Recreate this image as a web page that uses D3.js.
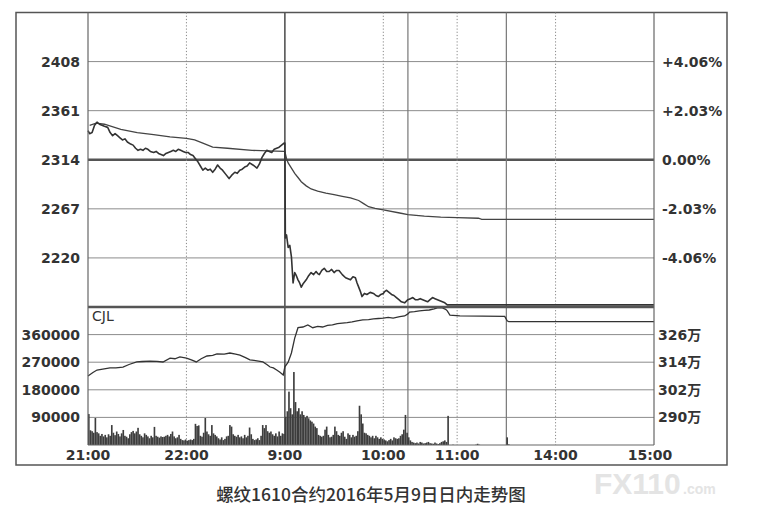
<!DOCTYPE html>
<html>
<head>
<meta charset="utf-8">
<script src="https://cdn.jsdelivr.net/npm/d3@7"></script>
<style>
  html, body { margin: 0; padding: 0; background: #fff; }
  svg { display: block; }
</style>
</head>
<body>
<svg id="chart" width="769" height="521"></svg>
<script>
// ---------------- DATA ----------------
// time axis: trading minutes since 21:00 (night 21:00-23:00, then 9:00-10:15, 10:30-11:30, 13:30-15:00)
const timeTicks  = [0, 60, 120, 180, 225, 285, 345];
const timeLabels = ["21:00", "22:00", "9:00", "10:00", "11:00", "14:00", "15:00"];
const dottedMinutes = [60, 180, 225, 285];
const solidMinutes  = [120, 195, 255];

const priceTicks = [2408, 2361, 2314, 2267, 2220];
const pctLabels  = ["+4.06%", "+2.03%", "0.00%", "-2.03%", "-4.06%"];
const volTicks   = [360000, 270000, 180000, 90000];
const oiTicks    = [326, 314, 302, 290];
const oiLabels   = ["326万", "314万", "302万", "290万"];

// last price
const priceMin = [0,1,2.5,4,5.5,7,8.5,10,12,13.5,15,16.5,18,19.5,21,22.5,24,26,27.5,29,30.5,32,33.5,35,36.5,38,40,41.5,43,44.5,46,47.5,49,50.5,52,53.5,55,56.5,58,59.5,61,62.5,64,65.5,67,68.5,70,71.5,73,74.5,76,77.5,79,80.5,82,84,86,87.5,89.5,91,92.5,94,95.5,97,98.5,100.5,103,104.5,106,107.5,109,110.5,112,113.5,115,116.5,118,119.5,
  120,120.3,121,122,123,124,125,126,127,128,129,130,131,133,134.5,136,137.5,139,140,141,142.5,144,145.5,147,148.5,150,151.5,153,155,157,158.5,160,161.5,163,164,165,166,167,168.5,170,172,174,175.5,177,178.5,180,181,182,183.5,185,186.5,188,189.5,191,193,195,196.5,198,199.5,201,202.5,204,205.5,207,208.5,210,211.5,213,214.5,216,217.5,219,345];
const priceVal = [2342,2339,2340,2347,2350,2348,2347,2346,2345,2340,2337,2339,2337,2335,2333,2334,2331,2329,2328,2325,2323,2324,2323,2325,2324,2322,2321,2322,2320,2319,2318,2320,2321,2322,2323,2322,2324,2323,2322,2321,2321,2319,2318,2315,2312,2308,2304,2306,2304,2305,2302,2305,2309,2306,2304,2300,2296,2299,2302,2301,2304,2305,2307,2308,2311,2309,2306,2310,2316,2320,2323,2322,2321,2324,2325,2326,2328,2330,
  2330,2239,2242,2230,2232,2221,2196,2206,2203,2199,2196,2192,2195,2199,2203,2206,2204,2207,2205,2204,2208,2210,2207,2207,2209,2206,2208,2208,2204,2201,2200,2199,2202,2201,2196,2192,2188,2183,2186,2185,2187,2186,2184,2183,2185,2186,2188,2189,2187,2185,2184,2182,2180,2178,2177,2180,2181,2182,2180,2180,2181,2180,2179,2178,2180,2182,2181,2180,2179,2178,2177,2175,2175];

// average price
const avgMin = [1,5,10,20,30,40,50,60,65,70,76,85,100,110,119.5,120,121,122,124,126,128,130,133,136,140,145,150,155,160,165,168,171,175,180,190,195,205,215,225,238,240,345];
const avgVal = [2347,2349,2348,2343,2340,2338,2336,2334.5,2333,2330,2326,2325,2323,2322.5,2322,2322,2315,2311,2306,2301,2297,2293,2289,2286,2284,2282,2280.5,2279,2277.5,2275,2272,2269,2267.5,2266,2263,2261.5,2260,2259,2258.5,2258,2257,2257];

// open interest (万手)
const oiMin = [0,3,5.5,9,13.4,17,21.3,25,29.7,33,37.8,42,45.7,50,53,56,60,63,66,69,72.5,76,78.6,83,86.5,90,92.6,96,98.7,103,106.6,109,111,113,115,117,119,120,122,124,126,128,131,134,137,140,143,146,149,152,155,158,161,164,167.5,171,174,177,180,183,186,190,193,195,196,199,202,205,208,211,213,216,218,219,220.6,226.7,254,255.5,256.5,345];
const oiVal = [308,309.5,310.6,311,311.5,311.5,311.9,313,314.1,314.3,314.5,314.4,314.1,315.8,315.5,316.3,315.8,315,314.1,315.5,316.7,317,317.6,317.5,318,317.5,317.1,316,315,314.6,314.1,313,311.9,311.5,310.6,309.6,308.4,312,314,318,324.5,329,329.3,330.2,329,329.6,329.3,330,330.2,330.8,331,331.2,331.5,332,332.4,332.5,332.8,333,333.2,333.5,333.2,333.8,334.1,335,335.8,336,336.3,336.5,336.7,337.2,337.6,337.6,337,336.3,334.5,334.1,333.9,332,331.6,331.6];

// volume per minute (thousand lots), minute 0..345
const volumeK = [
  101,48,45,40,88,42,38,30,36,28, 33,25,35,30,65,40,32,44,36,28,
  38,49,30,27,22,35,42,46,38,44, 56,35,30,25,38,33,28,22,30,25,
  59,30,27,24,28,26,27,30,33,28, 36,44,28,22,25,33,20,16,15,18,
  14,16,18,16,20,69,62,64,30,27, 40,88,44,35,30,65,38,33,28,22,
  18,25,16,20,28,30,65,60,35,30, 27,33,25,28,22,33,25,30,57,35,
  20,16,18,22,16,30,65,55,65,45, 40,44,35,30,38,28,44,30,38,36,
  92,110,174,120,100,238,140,110,120,100, 110,98,90,95,87,80,76,70,60,55,
  33,30,27,30,50,60,33,25,27,33, 60,45,33,30,40,45,27,20,38,33,
  25,33,27,30,45,128,100,70,40,38, 33,30,25,30,22,30,25,20,25,20,
  18,15,12,16,20,15,25,22,20,22, 30,35,50,98,40,25,15,10,8,6,
  8,5,10,8,5,6,8,10,6,5, 4,8,5,3,6,10,12,15,10,95,
  0,0,1,0,0,0,0,0,0,0, 0,0,0,0,0,0,1,4,1,0,
  0,0,0,0,0,0,0,0,0,0, 0,0,0,0,0,25,2,0,0,0,
  0,0,0,0,0,0,0,0,0,0, 0,0,0,0,0,0,0,0,0,0,
  0,0,0,0,0,0,0,0,0,0, 0,0,0,0,0,0,0,0,0,0,
  0,0,0,0,0,0,0,0,0,0, 0,0,0,0,0,0,0,0,0,0,
  0,0,0,0,0,0,0,0,0,0, 0,0,0,0,0,0
];

const caption = "螺纹1610合约2016年5月9日日内走势图";

// ---------------- LAYOUT ----------------
const svg = d3.select("#chart");
const L = 88, R = 654, T = 12.5, MID = 307, B = 445;
const frame = {x0: 16, y0: 12.5, x1: 727, y1: 465};

const x  = d3.scaleLinear().domain([0, 345]).range([L, R]);
const yP = d3.scaleLinear().domain([2173, 2455]).range([MID, T]);
const yV = d3.scaleLinear().domain([0, 450000]).range([B, MID]);
const yO = d3.scaleLinear().domain([278, 338]).range([B, MID]);

const ink = "#333";
const gridC = "#8c8c8c";
const font = "'DejaVu Sans', 'Noto Sans CJK SC', sans-serif";

svg.append("rect").attr("width", 769).attr("height", 521).attr("fill", "#fff");

// watermark (drawn first, faint)
const wm = svg.append("g").attr("font-family", "'Liberation Sans', Arial, sans-serif")
  .attr("font-weight", "bold").attr("fill", "#e4e4e4");
wm.append("text").attr("x", 594).attr("y", 494).attr("font-size", 30).text("FX110");
wm.append("text").attr("x", 683).attr("y", 494).attr("font-size", 14).text(".com");

// outer frame
svg.append("rect")
  .attr("x", frame.x0).attr("y", frame.y0)
  .attr("width", frame.x1 - frame.x0).attr("height", frame.y1 - frame.y0)
  .attr("fill", "none").attr("stroke", "#555").attr("stroke-width", 1.5);

const g = svg.append("g");

// horizontal grid: price panel
g.selectAll(".hp").data(priceTicks).join("line")
  .attr("x1", L).attr("x2", R)
  .attr("y1", d => yP(d)).attr("y2", d => yP(d))
  .attr("stroke", d => d === 2314 ? "#555" : gridC)
  .attr("stroke-width", d => d === 2314 ? 2.5 : 1);

// volume panel grid
g.selectAll(".hv").data(volTicks).join("line")
  .attr("x1", L).attr("x2", R)
  .attr("y1", d => yV(d)).attr("y2", d => yV(d))
  .attr("stroke", gridC).attr("stroke-width", 1);

// vertical dotted
g.selectAll(".vd").data(dottedMinutes).join("line")
  .attr("x1", d => x(d)).attr("x2", d => x(d))
  .attr("y1", T).attr("y2", B)
  .attr("stroke", "#888").attr("stroke-width", 1)
  .attr("stroke-dasharray", "1.2,2");

// vertical solid
g.selectAll(".vs").data(solidMinutes).join("line")
  .attr("x1", d => x(d)).attr("x2", d => x(d))
  .attr("y1", T).attr("y2", B)
  .attr("stroke", (d, i) => i === 0 ? "#555" : "#777")
  .attr("stroke-width", (d, i) => i === 0 ? 1.6 : 1.2);

// volume bars
const bw = x(1) - x(0);
g.selectAll(".bar").data(volumeK.map((v, i) => ({t: i, v: v * 1000})).filter(d => d.v > 0))
  .join("rect")
  .attr("x", d => x(d.t))
  .attr("width", bw)
  .attr("y", d => yV(d.v))
  .attr("height", d => B - yV(d.v))
  .attr("fill", "#3d3d3d");

// average price line
const avgData = avgMin.map((t, i) => [t, avgVal[i]]);
g.append("path").datum(avgData)
  .attr("d", d3.line().x(d => x(d[0])).y(d => yP(d[1])))
  .attr("fill", "none").attr("stroke", "#444").attr("stroke-width", 1.3);

// price line
const priceData = priceMin.map((t, i) => [t, priceVal[i]]);
g.append("path").datum(priceData)
  .attr("d", d3.line().x(d => x(d[0])).y(d => yP(d[1])))
  .attr("fill", "none").attr("stroke", ink).attr("stroke-width", 1.6)
  .attr("stroke-linejoin", "round");

// open interest line
const oiData = oiMin.map((t, i) => [t, oiVal[i]]);
g.append("path").datum(oiData)
  .attr("d", d3.line().x(d => x(d[0])).y(d => yO(d[1])))
  .attr("fill", "none").attr("stroke", ink).attr("stroke-width", 1.3);

// panel separator and borders
g.append("line").attr("x1", L).attr("x2", R).attr("y1", MID).attr("y2", MID)
  .attr("stroke", "#555").attr("stroke-width", 2.5);
g.append("line").attr("x1", L).attr("x2", R).attr("y1", B).attr("y2", B)
  .attr("stroke", "#666").attr("stroke-width", 1.2);
g.append("line").attr("x1", L).attr("x2", L).attr("y1", T).attr("y2", B)
  .attr("stroke", "#666").attr("stroke-width", 1.2);
g.append("line").attr("x1", R).attr("x2", R).attr("y1", T).attr("y2", B)
  .attr("stroke", "#666").attr("stroke-width", 1.2);

// ---------------- TEXT ----------------
const txt = svg.append("g").attr("font-family", font).attr("font-weight", "bold")
  .attr("font-size", 14).attr("fill", ink);

txt.selectAll(".pl").data(priceTicks).join("text")
  .attr("x", 80).attr("y", d => yP(d)).attr("dy", "0.36em")
  .attr("text-anchor", "end").text(d => d);

txt.selectAll(".pr").data(priceTicks).join("text")
  .attr("x", 662).attr("y", d => yP(d)).attr("dy", "0.36em")
  .attr("text-anchor", "start").text((d, i) => pctLabels[i]);

txt.selectAll(".vl").data(volTicks).join("text")
  .attr("x", 80).attr("y", d => yV(d)).attr("dy", "0.36em")
  .attr("text-anchor", "end").text(d => d);

txt.selectAll(".ol").data(oiTicks).join("text")
  .attr("x", 658).attr("y", d => yO(d)).attr("dy", "0.36em")
  .attr("text-anchor", "start").text((d, i) => oiLabels[i]);

txt.selectAll(".tl").data(timeTicks).join("text")
  .attr("x", (d, i) => x(d) - (i === timeTicks.length - 1 ? 4 : 0))
  .attr("y", 460)
  .attr("text-anchor", "middle").text((d, i) => timeLabels[i]);

svg.append("text").attr("x", 92).attr("y", 321)
  .attr("font-family", font).attr("font-size", 14).attr("fill", ink)
  .text("CJL");

// caption
svg.append("text").attr("x", 371).attr("y", 501)
  .attr("text-anchor", "middle")
  .attr("font-family", "'Noto Sans CJK SC', sans-serif")
  .attr("font-size", 17.5).attr("font-weight", 500).attr("fill", ink)
  .text(caption);
</script>
</body>
</html>
